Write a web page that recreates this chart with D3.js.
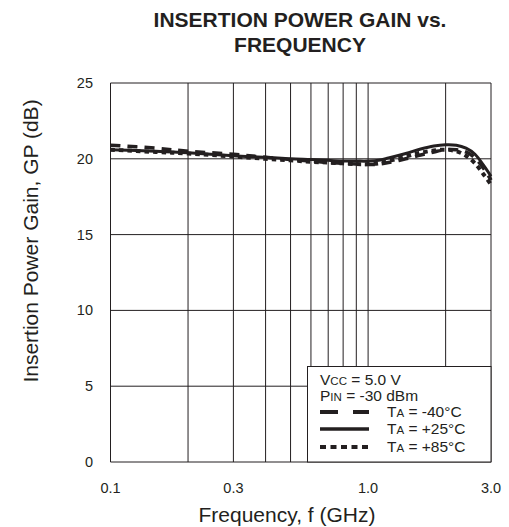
<!DOCTYPE html>
<html>
<head>
<meta charset="utf-8">
<script src="https://cdn.jsdelivr.net/npm/d3@7"></script>
<style>
  body { margin: 0; background: #fff; }
  text { font-family: "Liberation Sans", Arial, sans-serif; fill: #231f20; }
</style>
</head>
<body>
<div id="chart"></div>
<script>
// frequencies in GHz
var freqs = [0.1, 0.15, 0.2, 0.3, 0.4, 0.5, 0.6, 0.7, 0.8, 0.9, 1.0, 1.1, 1.2, 1.4, 1.6, 1.8, 2.0, 2.2, 2.4, 2.6, 2.8, 3.0];

// insertion power gain (dB) per temperature
var gainMinus40 = [20.9, 20.7, 20.5, 20.3, 20.1, 19.95, 19.85, 19.75, 19.7, 19.65, 19.62, 19.65, 19.75, 20.0, 20.25, 20.45, 20.6, 20.6, 20.45, 20.05, 19.4, 18.6];
var gainPlus25 = [20.6, 20.5, 20.4, 20.2, 20.1, 20.0, 19.95, 19.9, 19.85, 19.85, 19.85, 19.9, 20.05, 20.35, 20.65, 20.85, 20.93, 20.9, 20.7, 20.3, 19.6, 18.85];
var gainPlus85 = [20.6, 20.45, 20.35, 20.15, 20.0, 19.9, 19.8, 19.75, 19.7, 19.65, 19.65, 19.7, 19.85, 20.15, 20.4, 20.55, 20.6, 20.5, 20.2, 19.7, 19.0, 18.3];

var xGrid = [0.1, 0.2, 0.3, 0.4, 0.5, 0.6, 0.7, 0.8, 0.9, 1.0, 2.0, 3.0];
var xTickLabels = [0.1, 0.3, 1.0, 3.0];
var yTicks = [0, 5, 10, 15, 20, 25];

var W = 509, H = 527;
var margin = { top: 83, right: 18, bottom: 65, left: 110.5 };

var svg = d3.select("#chart").append("svg")
    .attr("width", W)
    .attr("height", H);

var x = d3.scaleLog().domain([0.1, 3.0]).range([margin.left, W - margin.right]);
var y = d3.scaleLinear().domain([0, 25]).range([H - margin.bottom, margin.top]);

//title
var title = svg.append("text")
    .attr("x", 300)
    .attr("text-anchor", "middle")
    .style("font-weight", "bold")
    .style("font-size", "21px");
title.append("tspan").attr("x", 300).attr("y", 27).text("INSERTION POWER GAIN vs.");
title.append("tspan").attr("x", 300).attr("y", 52).text("FREQUENCY");

//grid
svg.selectAll(".vgrid")
    .data(xGrid)
    .enter()
    .append("line")
    .attr("x1", function (d) { return x(d); })
    .attr("x2", function (d) { return x(d); })
    .attr("y1", y(0))
    .attr("y2", y(25))
    .attr("stroke", "#231f20")
    .attr("stroke-width", 1);

svg.selectAll(".hgrid")
    .data(yTicks)
    .enter()
    .append("line")
    .attr("x1", x(0.1))
    .attr("x2", x(3.0))
    .attr("y1", function (d) { return y(d); })
    .attr("y2", function (d) { return y(d); })
    .attr("stroke", "#231f20")
    .attr("stroke-width", 1);

//tick labels
svg.selectAll(".xlab")
    .data(xTickLabels)
    .enter()
    .append("text")
    .attr("x", function (d) { return x(d); })
    .attr("y", 493)
    .attr("text-anchor", "middle")
    .style("font-size", "14.5px")
    .text(function (d) { return d.toFixed(1); });

svg.selectAll(".ylab")
    .data(yTicks)
    .enter()
    .append("text")
    .attr("x", 93)
    .attr("y", function (d) { return y(d) + 5; })
    .attr("text-anchor", "end")
    .style("font-size", "14.5px")
    .text(function (d) { return d; });

//axis titles
svg.append("text")
    .attr("x", 287)
    .attr("y", 522)
    .attr("text-anchor", "middle")
    .style("font-size", "21px")
    .text("Frequency, f (GHz)");

svg.append("text")
    .attr("transform", "translate(38,241) rotate(-90)")
    .attr("text-anchor", "middle")
    .style("font-size", "21px")
    .text("Insertion Power Gain, GP (dB)");

//curves
var line = d3.line()
    .x(function (d) { return x(d[0]); })
    .y(function (d) { return y(d[1]); })
    .curve(d3.curveCatmullRom);

var series = [
    { values: gainPlus25, dash: null, width: 3 },
    { values: gainMinus40, dash: "10,7", width: 3.5 },
    { values: gainPlus85, dash: "4.5,4", width: 4 }
];

svg.selectAll(".curve")
    .data(series)
    .enter()
    .append("path")
    .attr("d", function (s) { return line(freqs.map(function (f, i) { return [f, s.values[i]]; })); })
    .attr("fill", "none")
    .attr("stroke", "#231f20")
    .attr("stroke-width", function (s) { return s.width; })
    .attr("stroke-dasharray", function (s) { return s.dash; });

//legend
var lg = svg.append("g");
lg.append("rect")
    .attr("x", 307.5)
    .attr("y", 366.5)
    .attr("width", x(3.0) - 307.5)
    .attr("height", y(0) - 366.5)
    .attr("fill", "#fff")
    .attr("stroke", "#231f20")
    .attr("stroke-width", 1);

function sub(t, big, small, px, py) {
    var el = lg.append("text").attr("x", px).attr("y", py).style("font-size", "15.5px");
    el.append("tspan").text(big);
    el.append("tspan").style("font-size", "11.5px").text(small);
    el.append("tspan").text(t);
}
sub(" = 5.0 V", "V", "CC", 320, 385);
sub(" = -30 dBm", "P", "IN", 320, 401);

var legendItems = [
    { label: " = -40°C", dash: "18,15", width: 4, yy: 412 },
    { label: " = +25°C", dash: null, width: 3.5, yy: 429 },
    { label: " = +85°C", dash: "6,4.5", width: 4, yy: 447 }
];
legendItems.forEach(function (d) {
    lg.append("line")
        .attr("x1", 320).attr("x2", 369)
        .attr("y1", d.yy).attr("y2", d.yy)
        .attr("stroke", "#231f20")
        .attr("stroke-width", d.width)
        .attr("stroke-dasharray", d.dash);
    sub(d.label, "T", "A", 387, d.yy + 5);
});
</script>
</body>
</html>
